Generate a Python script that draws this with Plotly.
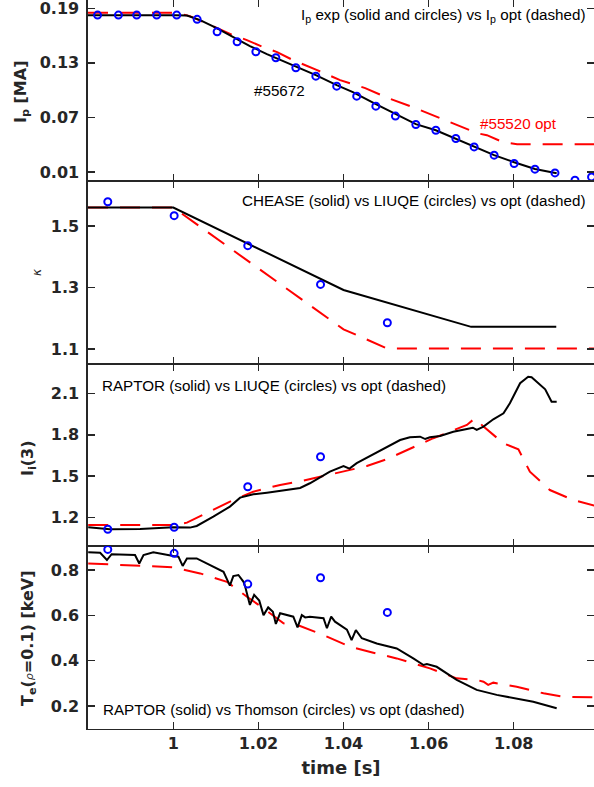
import plotly.graph_objects as go

# ---------------- data ----------------
# Panel 1: plasma current Ip [MA]
ip_circ_t = [0.9822, 0.9871, 0.9914, 0.9961, 1.0008, 1.0056, 1.0103, 1.0150, 1.0194, 1.0241,
             1.0288, 1.0335, 1.0384, 1.0431, 1.0476, 1.0522, 1.0570, 1.0617, 1.0664, 1.0707,
             1.0754, 1.0801, 1.0850, 1.0897, 1.0944, 1.0983]
ip_circ_v = [0.1826, 0.1826, 0.1826, 0.1826, 0.1826, 0.1779, 0.1642, 0.1532, 0.1422, 0.1356,
             0.1246, 0.1154, 0.1044, 0.0934, 0.0824, 0.0714, 0.0622, 0.0559, 0.0468, 0.0375,
             0.0284, 0.0193, 0.0130, 0.0089, 0.0009, 0.0045]
ip_exp_t = [0.97995, 0.9875, 0.9945, 1.0006, 1.0032, 1.0063, 1.0102, 1.0140, 1.0180, 1.0220,
            1.0259, 1.0288, 1.0335, 1.0384, 1.0422, 1.0476, 1.0522, 1.0570, 1.0617, 1.0664,
            1.0707, 1.0754, 1.0801, 1.0850, 1.0901]
ip_exp_v = [0.1823, 0.1825, 0.1826, 0.1823, 0.1821, 0.1771, 0.1683, 0.1584, 0.1485, 0.1397,
            0.1320, 0.1254, 0.1165, 0.1055, 0.0978, 0.0846, 0.0737, 0.0626, 0.0559, 0.0464,
            0.0375, 0.0284, 0.0207, 0.0133, 0.0086]
ip_opt_t = [0.97995, 1.0006, 1.0039, 1.0070, 1.0103, 1.0140, 1.0173, 1.0211, 1.0244, 1.0281,
            1.0338, 1.0392, 1.0451, 1.0505, 1.0563, 1.0620, 1.0669, 1.0714, 1.0737, 1.0775,
            1.0808, 1.0989]
ip_opt_v = [0.1851, 0.1851, 0.1815, 0.1752, 0.1683, 0.1606, 0.1551, 0.1474, 0.1419, 0.1331,
            0.1220, 0.1110, 0.1022, 0.0912, 0.0813, 0.0703, 0.0615, 0.0526, 0.0504, 0.0427,
            0.0405, 0.0405]

# Panel 2: elongation kappa
kap_ch_t = [0.97995, 1.0, 1.04, 1.07, 1.09]
kap_ch_v = [1.56, 1.56, 1.292, 1.172, 1.172]
kap_opt_t = [0.97995, 1.0, 1.04, 1.0502, 1.0989]
kap_opt_v = [1.56, 1.56, 1.164, 1.102, 1.102]
circ_t = [0.9846, 1.0002, 1.0175, 1.0346, 1.0503]
kap_liu_v = [1.579, 1.5335, 1.436, 1.310, 1.1855]

# Panel 3: internal inductance li(3)
li_liu_v = [1.116, 1.1305, 1.424, 1.641]
li_rap_t = [0.9800, 0.9851, 0.9922, 0.9969, 1.0000, 1.0039, 1.0055, 1.0094, 1.0133, 1.0157,
            1.0188, 1.0220, 1.0251, 1.0298, 1.0321, 1.0368, 1.0400, 1.0414, 1.0431, 1.0462,
            1.0494, 1.0509, 1.0533, 1.0556, 1.0580, 1.0592, 1.0603, 1.0627, 1.0658, 1.0690,
            1.0704, 1.0713, 1.0729, 1.0752, 1.0776, 1.0791, 1.0815, 1.0834, 1.0842, 1.0874,
            1.0889, 1.0901]
li_rap_v = [1.130, 1.116, 1.118, 1.128, 1.130, 1.128, 1.140, 1.207, 1.280, 1.345,
            1.369, 1.381, 1.393, 1.415, 1.449, 1.533, 1.574, 1.555, 1.594, 1.646,
            1.695, 1.719, 1.762, 1.782, 1.786, 1.769, 1.782, 1.791, 1.822, 1.842,
            1.851, 1.835, 1.859, 1.912, 1.955, 2.028, 2.173, 2.220, 2.216, 2.129,
            2.039, 2.039]
li_opt_t = [0.9800, 1.0000, 1.0032, 1.0079, 1.0141, 1.0188, 1.0251, 1.0298, 1.0353, 1.0400,
            1.0455, 1.0502, 1.0564, 1.0611, 1.0650, 1.0690, 1.0704, 1.0709, 1.0729, 1.0776,
            1.0811, 1.0838, 1.0885, 1.0940, 1.0989]
li_opt_v = [1.147, 1.147, 1.164, 1.236, 1.328, 1.388, 1.437, 1.462, 1.502, 1.533,
            1.574, 1.623, 1.709, 1.775, 1.822, 1.871, 1.907, 1.919, 1.859, 1.738,
            1.695, 1.533, 1.400, 1.328, 1.287]

# Panel 4: central electron temperature Te(rho=0.1) [keV]
te_tho_v = [0.891, 0.8735, 0.738, 0.766, 0.613]
te_rap_t = [0.9800, 0.9828, 0.9844, 0.9855, 0.9910, 0.9920, 0.9930, 0.9953, 1.0000, 1.0012,
            1.0022, 1.0032, 1.0055, 1.0079, 1.0118, 1.0133, 1.0141, 1.0153, 1.0165, 1.0169,
            1.0180, 1.0190, 1.0202, 1.0212, 1.0223, 1.0234, 1.0241, 1.0251, 1.0282, 1.0292,
            1.0302, 1.0310, 1.0321, 1.0353, 1.0361, 1.0371, 1.0380, 1.0408, 1.0419, 1.0429,
            1.0443, 1.0478, 1.0525, 1.0564, 1.0588, 1.0596, 1.0619, 1.0666, 1.0713, 1.0760,
            1.0807, 1.0846, 1.0901]
te_rap_v = [0.878, 0.876, 0.844, 0.870, 0.866, 0.829, 0.866, 0.878, 0.862, 0.859,
            0.818, 0.851, 0.851, 0.829, 0.792, 0.731, 0.773, 0.778, 0.748, 0.726,
            0.646, 0.690, 0.665, 0.601, 0.635, 0.616, 0.562, 0.609, 0.594, 0.547,
            0.601, 0.591, 0.594, 0.587, 0.543, 0.594, 0.572, 0.537, 0.491, 0.535,
            0.499, 0.476, 0.454, 0.410, 0.381, 0.385, 0.373, 0.315, 0.271, 0.249,
            0.234, 0.219, 0.190]
te_opt_t = [0.9800, 0.9906, 1.0000, 1.0063, 1.0126, 1.0173, 1.0212, 1.0259, 1.0298, 1.0353,
            1.0415, 1.0470, 1.0525, 1.0603, 1.0666, 1.0713, 1.0729, 1.0740, 1.0752, 1.0807,
            1.0870, 1.0917, 1.0989]
te_opt_v = [0.829, 0.819, 0.812, 0.785, 0.748, 0.682, 0.631, 0.565, 0.553, 0.513,
            0.462, 0.435, 0.410, 0.366, 0.322, 0.315, 0.307, 0.293, 0.303, 0.285,
            0.256, 0.241, 0.238]

x_ticks = [1.0, 1.02, 1.04, 1.06, 1.08]
x_ticklabels = ["1", "1.02", "1.04", "1.06", "1.08"]
x_range = [0.97995, 1.09887]

# ---------------- figure ----------------
W, H = 594, 787
ML, MR, MT, MB = 88, 0, 0, 58
PW, PH = W - ML - MR, H - MT - MB

def fx(px):
    return (px - ML) / PW

def fy(py):
    return (H - MB - py) / PH

BLACK = "#000000"
RED = "#ff0000"
BLUE = "#0000ff"
AX = "#262626"
DASH = "20px,12px"

fig = go.Figure()

def solid(t, v, ax):
    fig.add_trace(go.Scatter(x=t, y=v, mode="lines", line=dict(color=BLACK, width=2),
                             xaxis="x" + ax, yaxis="y" + ax, hoverinfo="skip"))

def dashed(t, v, ax):
    fig.add_trace(go.Scatter(x=t, y=v, mode="lines", line=dict(color=RED, width=2, dash=DASH),
                             xaxis="x" + ax, yaxis="y" + ax, hoverinfo="skip"))

def circles(t, v, ax):
    fig.add_trace(go.Scatter(x=t, y=v, mode="markers",
                             marker=dict(symbol="circle-open", size=7, color=BLUE,
                                         line=dict(color=BLUE, width=2)),
                             xaxis="x" + ax, yaxis="y" + ax, hoverinfo="skip"))

# panel 1 (axis suffix "")
dashed(ip_opt_t, ip_opt_v, "")
solid(ip_exp_t, ip_exp_v, "")
circles(ip_circ_t, ip_circ_v, "")
# panel 2
dashed(kap_opt_t, kap_opt_v, "2")
solid(kap_ch_t, kap_ch_v, "2")
circles(circ_t, kap_liu_v, "2")
# panel 3
dashed(li_opt_t, li_opt_v, "3")
solid(li_rap_t, li_rap_v, "3")
circles(circ_t[:4], li_liu_v, "3")
# panel 4
dashed(te_opt_t, te_opt_v, "4")
solid(te_rap_t, te_rap_v, "4")
circles(circ_t, te_tho_v, "4")

tickfont = dict(family="DejaVu Sans", size=16, color=AX, weight="bold")

bounds = [0, 181, 364, 546, 729]
yranges = [[0.0, 0.1992], [1.0512, 1.6463], [0.995, 2.312], [0.0985, 0.906]]
yticks = [[0.01, 0.07, 0.13, 0.19], [1.1, 1.3, 1.5], [1.2, 1.5, 1.8, 2.1], [0.2, 0.4, 0.6, 0.8]]
yticktext = [["0.01", "0.07", "0.13", "0.19"], ["1.1", "1.3", "1.5"],
             ["1.2", "1.5", "1.8", "2.1"], ["0.2", "0.4", "0.6", "0.8"]]

layout = dict(width=W, height=H, margin=dict(l=ML, r=MR, t=MT, b=MB, autoexpand=False),
              plot_bgcolor="white", paper_bgcolor="white", showlegend=False)

LW = 1.1
for i in range(4):
    s = "" if i == 0 else str(i + 1)
    dom = [fy(bounds[i + 1]), fy(bounds[i])]
    layout["xaxis" + s] = dict(
        domain=[0, 1], range=x_range, anchor="y" + s, tickvals=x_ticks,
        ticktext=x_ticklabels, showticklabels=(i == 3), ticks="inside", ticklen=7,
        tickwidth=1.5, tickcolor=AX, showline=True, linecolor=AX, linewidth=LW,
        mirror="ticks", showgrid=False, zeroline=False, tickfont=tickfont,
        automargin=False,
    )
    layout["yaxis" + s] = dict(
        domain=dom, range=yranges[i], anchor="x" + s, tickvals=yticks[i],
        ticktext=yticktext[i], ticks="inside", ticklen=7, tickwidth=1.5, tickcolor=AX,
        showline=True, linecolor=AX, linewidth=1.6, mirror="ticks", showgrid=False,
        zeroline=False, tickfont=tickfont, ticklabelstandoff=4, automargin=False,
        ticklabeloverflow="allow",
    )

layout["xaxis4"]["title"] = dict(text="time [s]", standoff=9,
                                 font=dict(family="DejaVu Sans", size=18, color=AX, weight="bold"))

fig.update_layout(**layout)

TXT = dict(family="Liberation Sans", size=15.2, color=BLACK)
ann = []

def note(text, px, py, xanchor="left", color=BLACK):
    f = dict(TXT)
    f["color"] = color
    ann.append(dict(text=text, x=fx(px), y=fy(py), xref="paper", yref="paper",
                    xanchor=xanchor, yanchor="middle", showarrow=False, font=f))

note("I<sub>p</sub> exp (solid and circles) vs I<sub>p</sub> opt (dashed)", 588, 16, "right")
note("#55672", 252, 91)
note("#55520 opt", 478, 123, color=RED)
note("CHEASE (solid) vs LIUQE (circles) vs opt (dashed)", 588, 200, "right")
note("RAPTOR (solid) vs LIUQE (circles) vs opt (dashed)", 100, 386)
note("RAPTOR (solid) vs Thomson (circles) vs opt (dashed)", 101, 709)

YT = dict(family="DejaVu Sans", size=16, color=AX, weight="bold")

def ytitle(text, px, py, font):
    ann.append(dict(text=text, x=fx(px), y=fy(py), xref="paper", yref="paper",
                    xanchor="center", yanchor="middle", textangle=-90, showarrow=False,
                    font=font))

ytitle("I<sub>p</sub> [MA]", 21, 92, YT)
ytitle("<i>κ</i>", 37, 272, dict(family="DejaVu Sans", size=12, color=AX))
ytitle("I<sub>i</sub>(3)", 29, 458, YT)
ytitle("T<sub>e</sub>(<span style='font-weight:normal;font-size:11px'><i>ρ</i></span>=0.1) [keV]",
       28, 638, YT)

fig.update_layout(annotations=ann)

fig.write_html("out.html", config={"displayModeBar": False, "staticPlot": True},
               post_script="document.body.style.margin='0px';document.body.style.overflow='hidden';")
